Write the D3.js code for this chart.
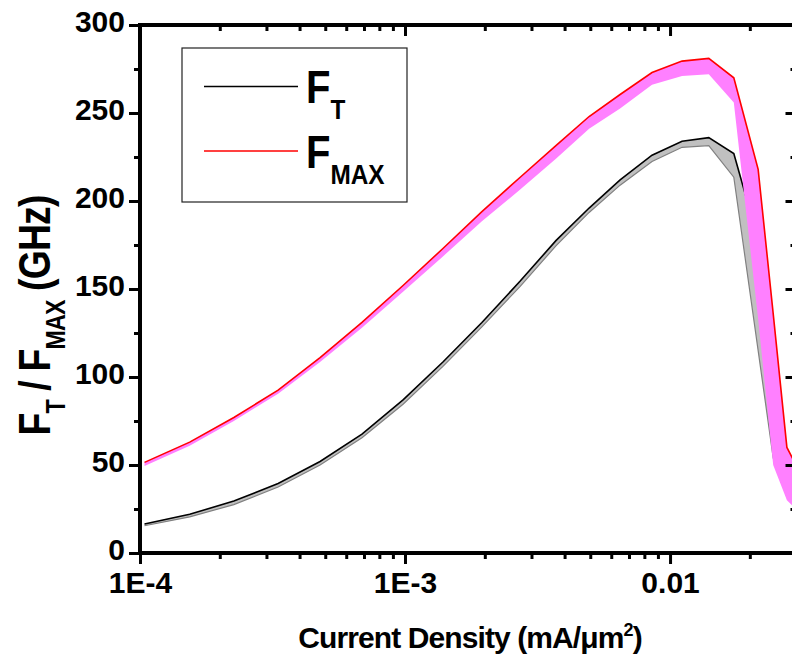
<!DOCTYPE html>
<html>
<head>
<meta charset="utf-8">
<script src="https://cdn.jsdelivr.net/npm/d3@7"></script>
<style>
  body { margin: 0; background: #fff; }
  svg { display: block; }
  text { font-family: "Liberation Sans", Arial, sans-serif; font-weight: bold; fill: #000; }
</style>
</head>
<body>
<svg id="chart" width="792" height="657"></svg>
<script>
// Current density (mA/um^2) at each bias point
const density = [1.04e-4, 1.54e-4, 2.26e-4, 3.32e-4, 4.78e-4, 6.88e-4, 9.83e-4,
  1.39e-3, 1.95e-3, 2.72e-3, 3.71e-3, 4.95e-3, 6.48e-3, 8.55e-3,
  1.11e-2, 1.40e-2, 1.74e-2, 2.15e-2, 2.45e-2, 2.76e-2, 3.23e-2];

// fT spread (GHz): upper and lower bound
const ftUpper = [16.5, 22, 29.5, 39.5, 52, 67.5, 87, 108.5, 131, 154.5, 177.5, 196,
  212, 226, 234, 236, 227, 178, 80, 42, 28];
const ftLower = [15.5, 20.5, 27.5, 37.5, 50, 65.5, 84.5, 106, 128.5, 151.5, 174.5,
  193.5, 209, 222.5, 230.5, 231.5, 213.5, 115, 54, 32, 20];

// fMAX spread (GHz): upper and lower bound
const fmaxUpper = [51.5, 63, 77, 92.5, 111, 131, 152, 173, 194, 213.5, 231.5,
  248, 260.5, 273, 279.5, 281, 270, 218, 136, 60, 40];
const fmaxLower = [49.5, 61, 75, 90.5, 108.5, 128, 148.5, 168.5, 188.5, 206.5, 224,
  241, 252.5, 266, 271, 272, 256, 133, 50, 30, 20];

const yTickValues = [0, 50, 100, 150, 200, 250, 300];
const yMinorValues = [25, 75, 125, 175, 225, 275];
const xTickValues = [1e-4, 1e-3, 1e-2];
const xTickLabels = ["1E-4", "1E-3", "0.01"];
const xMinorValues = [2e-4, 3e-4, 4e-4, 5e-4, 6e-4, 7e-4, 8e-4, 9e-4,
  2e-3, 3e-3, 4e-3, 5e-3, 6e-3, 7e-3, 8e-3, 9e-3, 2e-2];

const svg = d3.select("#chart");
const plot = { left: 140, right: 796.5, top: 25, bottom: 553 };

const x = d3.scaleLog().domain([1e-4, 0.03]).range([plot.left, plot.right]);
const y = d3.scaleLinear().domain([0, 300]).range([plot.bottom, plot.top]);

svg.append("clipPath").attr("id", "plotClip")
  .append("rect")
  .attr("x", plot.left).attr("y", plot.top)
  .attr("width", plot.right - plot.left).attr("height", plot.bottom - plot.top);

const ftRows = density.map((d, i) => ({ x: d, hi: ftUpper[i], lo: ftLower[i] }));
const fmaxRows = density.map((d, i) => ({ x: d, hi: fmaxUpper[i], lo: fmaxLower[i] }));

const band = d3.area().x(d => x(d.x)).y0(d => y(d.lo)).y1(d => y(d.hi));
const upperLine = d3.line().x(d => x(d.x)).y(d => y(d.hi));
const lowerLine = d3.line().x(d => x(d.x)).y(d => y(d.lo));

const data = svg.append("g").attr("clip-path", "url(#plotClip)");

// fT band
data.append("path").datum(ftRows).attr("d", band).attr("fill", "#c0c0c0");
data.append("path").datum(ftRows).attr("d", lowerLine)
  .attr("fill", "none").attr("stroke", "#808080").attr("stroke-width", 1.2);
data.append("path").datum(ftRows).attr("d", upperLine)
  .attr("fill", "none").attr("stroke", "#000").attr("stroke-width", 1.6);

// fMAX band
data.append("path").datum(fmaxRows).attr("d", band).attr("fill", "#ff80ff");
data.append("path").datum(fmaxRows).attr("d", upperLine)
  .attr("fill", "none").attr("stroke", "#ff0000").attr("stroke-width", 1.6);

// Axes
const axes = svg.append("g");
const majorLen = 11, minorLen = 6;

function styleAxis(g) {
  g.select(".domain").remove();
  g.selectAll(".tick line").attr("stroke", "#000").attr("stroke-width", 3);
}
function styleLabels(g) {
  g.selectAll("text").attr("font-size", 30)
    .style("font-family", '"Liberation Sans", Arial, sans-serif').style("font-weight", "bold");
}

// left (labelled, ticks outward)
axes.append("g").attr("transform", `translate(${plot.left},0)`)
  .call(d3.axisLeft(y).tickValues(yTickValues).tickSize(majorLen).tickPadding(4)
    .tickFormat(d3.format("d")))
  .call(styleAxis).call(styleLabels)
  .call(g => g.selectAll("text").attr("dy", "0.21em"));
axes.append("g").attr("transform", `translate(${plot.left},0)`)
  .call(d3.axisLeft(y).tickValues(yMinorValues).tickSize(minorLen).tickFormat(""))
  .call(styleAxis);

// right (ticks inward)
axes.append("g").attr("transform", `translate(${plot.right},0)`)
  .call(d3.axisLeft(y).tickValues(yTickValues).tickSize(majorLen).tickFormat(""))
  .call(styleAxis);
axes.append("g").attr("transform", `translate(${plot.right},0)`)
  .call(d3.axisLeft(y).tickValues(yMinorValues).tickSize(minorLen).tickFormat(""))
  .call(styleAxis);

// bottom (labelled, ticks outward)
axes.append("g").attr("transform", `translate(0,${plot.bottom})`)
  .call(d3.axisBottom(x).tickValues(xTickValues).tickSize(majorLen).tickPadding(8)
    .tickFormat((d, i) => xTickLabels[i]))
  .call(styleAxis).call(styleLabels);
axes.append("g").attr("transform", `translate(0,${plot.bottom})`)
  .call(d3.axisBottom(x).tickValues(xMinorValues).tickSize(minorLen).tickFormat(""))
  .call(styleAxis);

// top (ticks inward)
axes.append("g").attr("transform", `translate(0,${plot.top})`)
  .call(d3.axisBottom(x).tickValues(xTickValues).tickSize(majorLen).tickFormat(""))
  .call(styleAxis);
axes.append("g").attr("transform", `translate(0,${plot.top})`)
  .call(d3.axisBottom(x).tickValues(xMinorValues).tickSize(minorLen).tickFormat(""))
  .call(styleAxis);

// frame
axes.append("rect")
  .attr("x", plot.left).attr("y", plot.top)
  .attr("width", plot.right - plot.left).attr("height", plot.bottom - plot.top)
  .attr("fill", "none").attr("stroke", "#000").attr("stroke-width", 4);

// axis titles
const xTitle = svg.append("text")
  .attr("x", 470).attr("y", 648).attr("text-anchor", "middle")
  .attr("font-size", 30).attr("letter-spacing", "-0.9");
xTitle.append("tspan").text("Current Density (mA/\u03BCm");
xTitle.append("tspan").attr("font-size", 18).attr("dy", -12).text("2");
xTitle.append("tspan").attr("dy", 12).text(")");

const yTitle = svg.append("text")
  .attr("transform", "translate(50,315.5) rotate(-90) scale(0.83,1)")
  .attr("text-anchor", "middle").attr("font-size", 45).attr("letter-spacing", "-1");
yTitle.append("tspan").text("F");
yTitle.append("tspan").attr("font-size", 28).attr("dy", 15).text("T");
yTitle.append("tspan").attr("dy", -15).text(" / F");
yTitle.append("tspan").attr("font-size", 28).attr("dy", 15).text("MAX");
yTitle.append("tspan").attr("dy", -15).text(" (GHz)");

// legend
const legend = svg.append("g");
legend.append("rect")
  .attr("x", 182).attr("y", 48).attr("width", 225).attr("height", 154)
  .attr("fill", "#fff").attr("stroke", "#222").attr("stroke-width", 1.2);
const legendItems = [
  { main: "F", sub: "T", color: "#000", ly: 86.5, base: 103 },
  { main: "F", sub: "MAX", color: "#ff0000", ly: 151, base: 168 }
];
legendItems.forEach(it => {
  legend.append("line")
    .attr("x1", 204).attr("x2", 298).attr("y1", it.ly).attr("y2", it.ly)
    .attr("stroke", it.color).attr("stroke-width", 1.6);
  const t = legend.append("text")
    .attr("transform", `translate(306,${it.base}) scale(0.87,1)`)
    .attr("font-size", 46);
  t.append("tspan").text(it.main);
  t.append("tspan").attr("font-size", 28).attr("dy", 16).text(it.sub);
});
</script>
</body>
</html>
